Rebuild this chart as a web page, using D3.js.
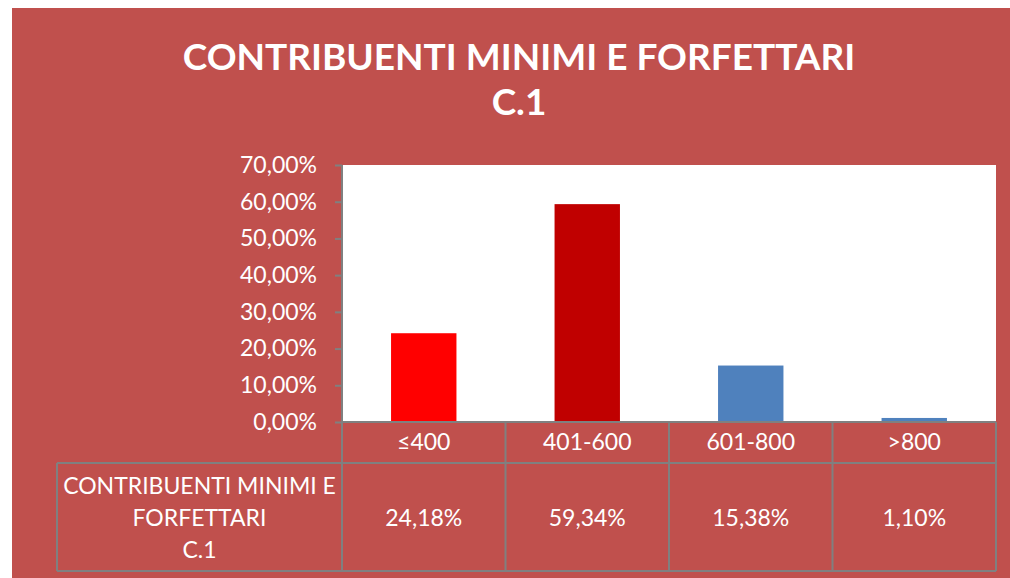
<!DOCTYPE html>
<meta charset="utf-8">
<style>
body { margin: 0; background: #fff; }
text { font-family: Lato, "Open Sans", sans-serif; fill: #fff; }
</style>
<body>
<script src="https://d3js.org/d3.v7.min.js"></script>
<script>

// data
var categories = ["\u2264400", "401-600", "601-800", ">800"];
var values = [24.18, 59.34, 15.38, 1.10];
var barColors = ["#FF0000", "#C00000", "#4F81BD", "#4F81BD"];
var yTicks = [0, 10, 20, 30, 40, 50, 60, 70];
var seriesName = ["CONTRIBUENTI MINIMI E", "FORFETTARI", "C.1"];
var titleLines = ["CONTRIBUENTI MINIMI E FORFETTARI", "C.1"];

var W = 1010, H = 578;
var plot = {left: 342, right: 996, top: 165, bottom: 422};
var tableRows = [422, 463, 571];
var labelLeft = 57;

var fmt = function(v) { return v.toFixed(2).replace(".", ",") + "%"; };

var svg = d3.select("body").append("svg")
    .attr("width", W)
    .attr("height", H);

// red chart area
svg.append("rect")
    .attr("x", 12).attr("y", 8)
    .attr("width", W - 12).attr("height", H - 8)
    .attr("fill", "#C0504D");

// title
svg.selectAll(".title")
    .data(titleLines)
  .enter().append("text")
    .attr("class", "title")
    .attr("x", 519)
    .attr("y", function(d, i) { return 70 + i * 45; })
    .attr("text-anchor", "middle")
    .style("font-size", "37px")
    .style("font-weight", "bold")
    .text(function(d) { return d; });

// plot area
svg.append("rect")
    .attr("x", plot.left).attr("y", plot.top)
    .attr("width", plot.right - plot.left)
    .attr("height", plot.bottom - plot.top)
    .attr("fill", "#fff");

var x = d3.scaleBand()
    .domain(categories)
    .range([plot.left, plot.right])
    .paddingInner(0)
    .paddingOuter(0);

var y = d3.scaleLinear()
    .domain([0, 70])
    .range([plot.bottom, plot.top]);

// bars
var bw = x.bandwidth() * 0.4;
svg.selectAll(".bar")
    .data(values)
  .enter().append("rect")
    .attr("class", "bar")
    .attr("x", function(d, i) { return x(categories[i]) + (x.bandwidth() - bw) / 2; })
    .attr("width", bw)
    .attr("y", function(d) { return y(d); })
    .attr("height", function(d) { return plot.bottom - y(d); })
    .attr("fill", function(d, i) { return barColors[i]; });

// y axis
var yAxis = svg.append("g")
    .attr("transform", "translate(" + plot.left + ",0)")
    .call(d3.axisLeft(y).tickValues(yTicks).tickSize(7).tickPadding(18)
      .tickFormat(function(d) { return fmt(d); }));
yAxis.select(".domain").attr("stroke", "#808080").attr("stroke-width", 2)
    .attr("d", "M0," + plot.top + "V" + plot.bottom);
yAxis.selectAll(".tick line").attr("stroke", "#808080").attr("stroke-width", 2);
yAxis.selectAll(".tick text")
    .attr("fill", "#fff")
    .style("font-size", "23px");

// data table
var grid = svg.append("g").attr("stroke", "#808080").attr("stroke-width", 2).attr("fill", "none");
grid.append("line").attr("x1", plot.left).attr("x2", plot.right)
    .attr("y1", tableRows[0]).attr("y2", tableRows[0]);
grid.append("line").attr("x1", labelLeft).attr("x2", plot.right)
    .attr("y1", tableRows[1]).attr("y2", tableRows[1]);
grid.append("line").attr("x1", labelLeft).attr("x2", plot.right)
    .attr("y1", tableRows[2]).attr("y2", tableRows[2]);
grid.append("line").attr("x1", labelLeft).attr("x2", labelLeft)
    .attr("y1", tableRows[1]).attr("y2", tableRows[2]);
grid.selectAll(".vl")
    .data(categories.concat(["end"]))
  .enter().append("line")
    .attr("x1", function(d, i) { return plot.left + i * x.step(); })
    .attr("x2", function(d, i) { return plot.left + i * x.step(); })
    .attr("y1", tableRows[0]).attr("y2", tableRows[2]);

svg.selectAll(".cat")
    .data(categories)
  .enter().append("text")
    .attr("class", "cat")
    .attr("x", function(d) { return x(d) + x.bandwidth() / 2; })
    .attr("y", 450)
    .attr("text-anchor", "middle")
    .style("font-size", "23px")
    .text(function(d) { return d; });

svg.selectAll(".val")
    .data(values)
  .enter().append("text")
    .attr("class", "val")
    .attr("x", function(d, i) { return x(categories[i]) + x.bandwidth() / 2; })
    .attr("y", 526)
    .attr("text-anchor", "middle")
    .style("font-size", "23px")
    .text(function(d) { return fmt(d); });

svg.selectAll(".sname")
    .data(seriesName)
  .enter().append("text")
    .attr("class", "sname")
    .attr("x", (labelLeft + plot.left) / 2)
    .attr("y", function(d, i) { return 494 + i * 32; })
    .attr("text-anchor", "middle")
    .style("font-size", "23px")
    .text(function(d) { return d; });

</script>
</body>
